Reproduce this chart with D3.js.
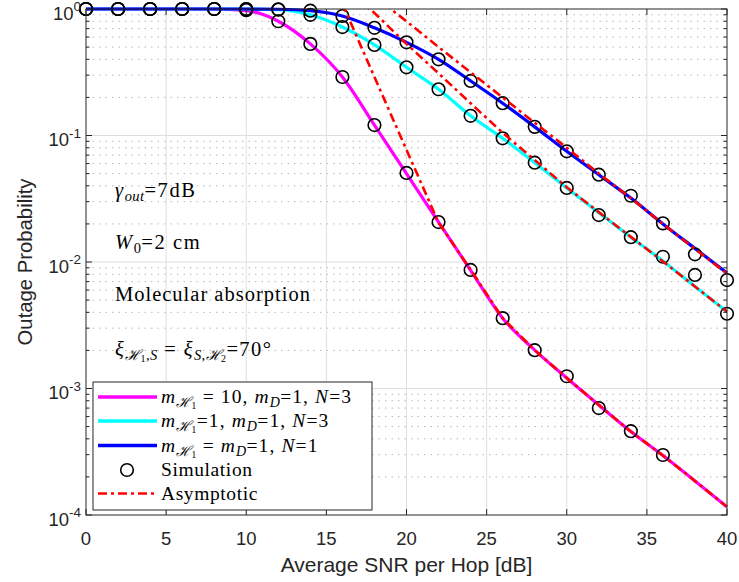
<!DOCTYPE html>
<html>
<head>
<meta charset="utf-8">
<script src="https://cdn.jsdelivr.net/npm/d3@7"></script>
<style>
  body { margin: 0; background: #fff; }
  svg text { font-family: "Liberation Sans", Helvetica, Arial, sans-serif; }
</style>
</head>
<body>
<div id="chart"></div>
<script>
// SNR grid (dB)
const snrDb = [0, 2, 4, 6, 8, 10, 12, 14, 16, 18, 20, 22, 24, 26, 28, 30, 32, 34, 36, 38, 40];

// analytical curves
const magentaAna = [1, 1, 1, 1, 1, 0.97, 0.80, 0.53, 0.29, 0.121, 0.050, 0.0207, 0.0086, 0.0036, 0.00201, 0.00121, 0.00074, 0.000457, 0.000295, 0.000186, 0.000116];
const cyanAna = [1, 1, 1, 1, 1, 1, 0.99, 0.90, 0.72, 0.52, 0.346, 0.232, 0.143, 0.095, 0.061, 0.0385, 0.0245, 0.0157, 0.0102, 0.0064, 0.00405];
const blueAna = [1, 1, 1, 1, 1, 1, 0.995, 0.97, 0.88, 0.71, 0.545, 0.40, 0.27, 0.18, 0.117, 0.075, 0.049, 0.032, 0.020, 0.0128, 0.0082];

// simulation points
const magentaSim = [1, 1, 1, 1, 1, 0.98, 0.80, 0.53, 0.29, 0.121, 0.0506, 0.0207, 0.00865, 0.0036, 0.00201, 0.00125, 0.00070, 0.00046, 0.000298];
const cyanSim = [1, 1, 1, 1, 1, 1, 0.99, 0.90, 0.72, 0.52, 0.346, 0.232, 0.143, 0.095, 0.061, 0.0385, 0.0235, 0.0157, 0.011, 0.0079, 0.0039];
const blueSim = [1, 1, 1, 1, 1, 1, 0.995, 0.97, 0.88, 0.71, 0.545, 0.40, 0.27, 0.18, 0.117, 0.075, 0.049, 0.0334, 0.0202, 0.0115, 0.0072];

// asymptotic curves (start at 14 dB, values above 1 get clipped)
const asymSnr = [14, 16, 18, 20, 22, 24, 26, 28, 30, 32, 34, 36, 38, 40];
const magentaAsym = [4.2, 1.1, 0.29, 0.077, 0.0205, 0.0087, 0.0036, 0.00201, 0.00121, 0.00074, 0.000457, 0.000295, 0.000186, 0.000116];
const cyanAsym = [2.4, 1.5, 0.93, 0.53, 0.31, 0.18, 0.105, 0.064, 0.039, 0.0248, 0.0158, 0.0101, 0.0064, 0.00405];
const blueAsym = [2.0, 1.6, 1.26, 0.80, 0.50, 0.316, 0.20, 0.126, 0.080, 0.050, 0.032, 0.020, 0.0127, 0.0081];

const xTicks = [0, 5, 10, 15, 20, 25, 30, 35, 40];
const yTicks = [1e-4, 1e-3, 1e-2, 1e-1, 1];
const yExp = ["-4", "-3", "-2", "-1", "0"];

const W = 739, H = 582;
const margin = { top: 9, right: 12, bottom: 67, left: 86 };
const axisCol = "#262626";

const svg = d3.select("#chart").append("svg")
  .attr("width", W).attr("height", H);

const x = d3.scaleLinear().domain([0, 40]).range([margin.left, W - margin.right]);
const y = d3.scaleLog().domain([1e-4, 1]).range([H - margin.bottom, margin.top]);
const x0 = x.range()[0], x1 = x.range()[1], y0 = y.range()[1], y1 = y.range()[0];

const defs = svg.append("defs");
defs.append("clipPath").attr("id", "clipA")
  .append("rect").attr("x", x0).attr("y", y0).attr("width", x1 - x0).attr("height", y1 - y0);
defs.append("clipPath").attr("id", "clipC")
  .append("rect").attr("x", x0).attr("y", y0 - 3).attr("width", x1 - x0 + 2).attr("height", y1 - y0 + 3);

// minor grid (log)
const minorVals = [];
for (let e = -4; e < 0; e++) for (let k = 2; k <= 9; k++) minorVals.push(k * Math.pow(10, e));
svg.append("g").selectAll("line").data(minorVals).enter().append("line")
  .attr("x1", x0).attr("x2", x1)
  .attr("y1", d => y(d)).attr("y2", d => y(d))
  .attr("stroke", "#b8b8b8").attr("stroke-width", 1)
  .attr("stroke-dasharray", "1.5,5");

// major grid
svg.append("g").selectAll("line").data(xTicks.slice(1, -1)).enter().append("line")
  .attr("x1", d => x(d)).attr("x2", d => x(d)).attr("y1", y0).attr("y2", y1)
  .attr("stroke", "#dedede").attr("stroke-width", 1);
svg.append("g").selectAll("line").data(yTicks.slice(1, -1)).enter().append("line")
  .attr("x1", x0).attr("x2", x1).attr("y1", d => y(d)).attr("y2", d => y(d))
  .attr("stroke", "#dedede").attr("stroke-width", 1);

// curves
const line = (xs) => d3.line()
  .x((d, i) => x(xs[i]))
  .y(d => y(d))
  .curve(d3.curveMonotoneX);

const curves = svg.append("g").attr("clip-path", "url(#clipC)");
[[magentaAna, "#ff00ff"], [cyanAna, "#00ffff"], [blueAna, "#0000ff"]].forEach(([vals, col]) => {
  curves.append("path").datum(vals)
    .attr("d", line(snrDb))
    .attr("fill", "none").attr("stroke", col).attr("stroke-width", 3.2)
    .attr("stroke-linejoin", "round");
});

// simulation markers
const sims = svg.append("g");
[magentaSim, cyanSim, blueSim].forEach(vals => {
  sims.selectAll(null).data(vals).enter().append("circle")
    .attr("cx", (d, i) => x(snrDb[i]))
    .attr("cy", d => y(d))
    .attr("r", 6.3)
    .attr("fill", "none").attr("stroke", "#000").attr("stroke-width", 1.6);
});

// asymptotic
const asym = svg.append("g").attr("clip-path", "url(#clipA)");
[magentaAsym, cyanAsym, blueAsym].forEach(vals => {
  asym.append("path").datum(vals)
    .attr("d", d3.line().x((d, i) => x(asymSnr[i])).y(d => y(d)))
    .attr("fill", "none").attr("stroke", "#ff0000").attr("stroke-width", 2.6)
    .attr("stroke-dasharray", "9,4,3,4");
});

// axes box
svg.append("rect").attr("x", x0).attr("y", y0).attr("width", x1 - x0).attr("height", y1 - y0)
  .attr("fill", "none").attr("stroke", axisCol).attr("stroke-width", 1);

// ticks (inward, all four sides)
const tk = svg.append("g").attr("stroke", axisCol).attr("stroke-width", 1);
xTicks.forEach(v => {
  tk.append("line").attr("x1", x(v)).attr("x2", x(v)).attr("y1", y1).attr("y2", y1 - 6);
  tk.append("line").attr("x1", x(v)).attr("x2", x(v)).attr("y1", y0).attr("y2", y0 + 6);
});
yTicks.forEach(v => {
  tk.append("line").attr("x1", x0).attr("x2", x0 + 6).attr("y1", y(v)).attr("y2", y(v));
  tk.append("line").attr("x1", x1).attr("x2", x1 - 6).attr("y1", y(v)).attr("y2", y(v));
});
minorVals.forEach(v => {
  tk.append("line").attr("x1", x0).attr("x2", x0 + 3.5).attr("y1", y(v)).attr("y2", y(v));
  tk.append("line").attr("x1", x1).attr("x2", x1 - 3.5).attr("y1", y(v)).attr("y2", y(v));
});

// tick labels
svg.append("g").selectAll("text").data(xTicks).enter().append("text")
  .attr("x", d => x(d)).attr("y", y1 + 30)
  .attr("text-anchor", "middle").attr("font-size", 18.5).attr("fill", axisCol)
  .text(d => d);

const yl = svg.append("g").selectAll("text").data(yTicks).enter().append("text")
  .attr("x", x0 - 5).attr("y", d => y(d) + 10.5)
  .attr("text-anchor", "end").attr("font-size", 18.5).attr("fill", axisCol);
yl.append("tspan").text("10");
yl.append("tspan").attr("dy", -8.5).attr("font-size", 13.5).text((d, i) => yExp[i]);

// axis labels
svg.append("text")
  .attr("x", (x0 + x1) / 2).attr("y", 572)
  .attr("text-anchor", "middle").attr("font-size", 21).attr("fill", axisCol)
  .text("Average SNR per Hop [dB]");
svg.append("text")
  .attr("transform", `translate(32,${(y0 + y1) / 2}) rotate(-90)`)
  .attr("text-anchor", "middle").attr("font-size", 20.3).attr("fill", axisCol)
  .text("Outage Probability");

// math-ish text helper: segments [text, size, dy, italic]
// subscripts (smaller than base) get tighter letter spacing
function mathText(g, px, py, segs, base, spacing) {
  const t = g.append("text").attr("x", px).attr("y", py)
    .style("font-family", "'Liberation Serif', 'Times New Roman', serif")
    .attr("font-size", base).attr("fill", "#000");
  segs.forEach(s => {
    const sz = s[1] || base;
    t.append("tspan")
      .attr("font-size", sz)
      .attr("dy", s[2] || 0)
      .attr("font-style", s[3] ? "italic" : "normal")
      .style("letter-spacing", (sz < base ? 0.4 : (spacing || 0)) + "px")
      .text(s[0]);
  });
  return t;
}

const ann = svg.append("g");
mathText(ann, 115, 197, [["γ", 20.5, 0, 1], ["out", 14.5, 4, 1], ["=7dB", 20.5, -4, 0]], 20.5, 1.6);
mathText(ann, 115, 249, [["W", 20.5, 0, 1], ["0", 14.5, 4, 0], ["=2 cm", 20.5, -4, 0]], 20.5, 1.6);
mathText(ann, 115, 301, [["Molecular absorption", 20.5, 0, 0]], 20.5, 1);
mathText(ann, 115, 356, [["ξ", 20.5, 0, 1], ["ℋ", 14.5, 4, 1], ["1", 10, 2, 0], [",S", 14.5, -2, 1],
  [" = ", 20.5, -4, 0], ["ξ", 20.5, 0, 1], ["S,ℋ", 14.5, 4, 1], ["2", 10, 2, 0], ["=70°", 20.5, -6, 0]], 20.5, 1.4);

// legend
const lg = svg.append("g");
lg.append("rect").attr("x", 93).attr("y", 382).attr("width", 279).attr("height", 128)
  .attr("fill", "#fff").attr("stroke", axisCol).attr("stroke-width", 1);
const rowY = [397, 421, 445.5, 470, 493.5];
const legendSeries = [
  { col: "#ff00ff", segs: [["m", 19.5, 0, 1], ["ℋ", 14, 4, 1], ["1", 9.5, 2, 0], [" = 10, ", 19.5, -6, 0], ["m", 19.5, 0, 1], ["D", 14, 4, 1], ["=1, ", 19.5, -4, 0], ["N", 19.5, 0, 1], ["=3", 19.5, 0, 0]] },
  { col: "#00ffff", segs: [["m", 19.5, 0, 1], ["ℋ", 14, 4, 1], ["1", 9.5, 2, 0], ["=1, ", 19.5, -6, 0], ["m", 19.5, 0, 1], ["D", 14, 4, 1], ["=1, ", 19.5, -4, 0], ["N", 19.5, 0, 1], ["=3", 19.5, 0, 0]] },
  { col: "#0000ff", segs: [["m", 19.5, 0, 1], ["ℋ", 14, 4, 1], ["1", 9.5, 2, 0], [" = ", 19.5, -6, 0], ["m", 19.5, 0, 1], ["D", 14, 4, 1], ["=1, ", 19.5, -4, 0], ["N", 19.5, 0, 1], ["=1", 19.5, 0, 0]] }
];
legendSeries.forEach((s, i) => {
  lg.append("line").attr("x1", 98).attr("x2", 157).attr("y1", rowY[i]).attr("y2", rowY[i])
    .attr("stroke", s.col).attr("stroke-width", 3.4);
  mathText(lg, 161, rowY[i] + 6, s.segs, 19.5, 1.1);
});
lg.append("circle").attr("cx", 127).attr("cy", rowY[3]).attr("r", 6.3)
  .attr("fill", "none").attr("stroke", "#000").attr("stroke-width", 1.6);
mathText(lg, 161, rowY[3] + 6, [["Simulation", 19.5, 0, 0]], 19.5, 0.6);
lg.append("line").attr("x1", 98).attr("x2", 157).attr("y1", rowY[4]).attr("y2", rowY[4])
  .attr("stroke", "#ff0000").attr("stroke-width", 2.6).attr("stroke-dasharray", "9,4,3,4");
mathText(lg, 161, rowY[4] + 6, [["Asymptotic", 19.5, 0, 0]], 19.5, 0.6);
</script>
</body>
</html>
